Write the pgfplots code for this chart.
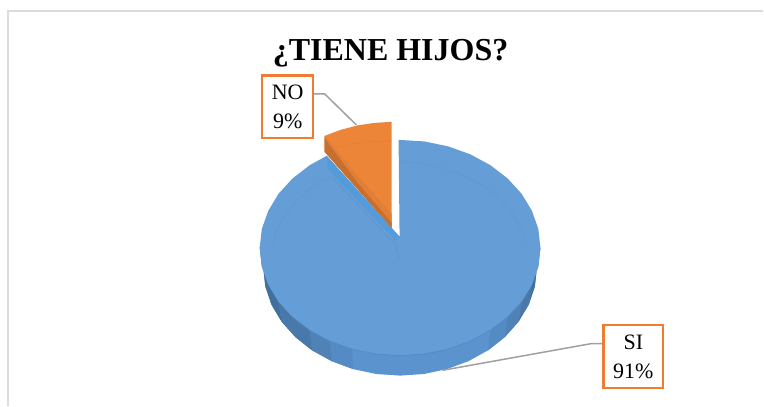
\documentclass[border=0pt]{standalone}
\usepackage{fontspec}
\setmainfont{Liberation Serif}
\usepackage{pgfplots}
\pgfplotsset{compat=1.18}
\definecolor{sitop}{HTML}{659DD6}
\definecolor{siring}{HTML}{6099D2}
\definecolor{siwall}{HTML}{549BDB}
\definecolor{simid}{HTML}{5A93CE}
\definecolor{sideA}{HTML}{41709F}
\definecolor{sideB}{HTML}{4979AB}
\definecolor{sideC}{HTML}{5082B8}
\definecolor{sideD}{HTML}{558BC4}
\definecolor{notop}{HTML}{ED8538}
\definecolor{nomid}{HTML}{E27F36}
\definecolor{noside}{HTML}{C56F30}
\definecolor{nobox}{HTML}{ED7D31}
\definecolor{leader}{HTML}{A0A0A0}
\definecolor{frame}{HTML}{DCDCDC}
\begin{document}
\begin{tikzpicture}
\begin{axis}[
    scale only axis,
    width=764pt,
    height=406pt,
    xmin=0, xmax=764,
    ymin=0, ymax=406,
    y dir=reverse,
    axis lines=none,
    clip=false,
    every axis plot/.append style={no markers}
]
% background keeps the page at full size
\addplot[draw=none,fill=white] coordinates {(0,0) (764,0) (764,406) (0,406)} --cycle;
% frame of the chart
\addplot[frame,line width=1.6pt] coordinates {(8,406) (8,11) (764,11)};

% side of SI
\addplot[draw=none,fill=simid] coordinates {
(541,248) (537.5,268) (535.4,286.8) (529.3,304.9) (519.1,322) (505.4,337.4) (488.6,350.7)
(469,361.5) (447.4,369.5) (424.3,374.4) (400.5,376) (376.7,374.4) (353.6,369.5) (332,361.5)
(312.4,350.7) (295.6,337.4) (281.9,322) (271.7,304.9) (265.6,286.8) (263.5,268) (260,248)} --cycle;
% side gets darker toward both ends
\addplot[draw=none,fill=sideD] coordinates {
(330.2,341.5) (332,361.5) (353.6,369.5) (352.4,349.5)} --cycle;
\addplot[draw=none,fill=sideC] coordinates {
(310.2,330.7) (312.4,350.7) (332,361.5) (330.2,341.5)} --cycle;
\addplot[draw=none,fill=sideB] coordinates {
(278.8,302) (281.9,322) (295.6,337.4) (312.4,350.7) (310.2,330.7) (292.9,317.4)} --cycle;
\addplot[draw=none,fill=sideA] coordinates {
(260,248) (263.5,268) (265.6,286.8) (271.7,304.9) (281.9,322) (278.8,302) (268.5,284.9) (262.1,266.8)} --cycle;
\addplot[draw=none,fill=sideD] coordinates {
(490.8,330.7) (488.6,350.7) (505.4,337.4) (508.1,317.4)} --cycle;
\addplot[draw=none,fill=sideC] coordinates {
(508.1,317.4) (505.4,337.4) (519.1,322) (522.2,302)} --cycle;
\addplot[draw=none,fill=sideB] coordinates {
(522.2,302) (519.1,322) (529.3,304.9) (532.5,284.9)} --cycle;
\addplot[draw=none,fill=sideA] coordinates {
(541,248) (537.5,268) (535.4,286.8) (529.3,304.9) (532.5,284.9) (538.9,266.8)} --cycle;

% top of SI with the notch of NO
\addplot[draw=none,fill=sitop] coordinates {
(541,248) (538.9,266.8) (532.5,284.9) (522.2,302) (508.1,317.4) (490.8,330.7) (470.8,341.5)
(448.6,349.5) (424.9,354.4) (400.5,356) (376.1,354.4) (352.4,349.5) (330.2,341.5) (310.2,330.7)
(292.9,317.4) (278.8,302) (268.5,284.9) (262.1,266.8) (260,248) (262.1,229.2) (268.5,211.1)
(278.8,194) (292.9,178.6) (310.2,165.3) (327,156) (400,237) (399,140) (424.9,141.6)
(448.6,146.5) (470.8,154.5) (490.8,165.3) (508.1,178.6) (522.2,194) (532.5,211.1) (538.9,229.2)} --cycle;

% faint bevel ring on top
\addplot[siring,line width=0.5pt] coordinates {
(400,162) (422,163.5) (444,168) (465,176) (484,186) (500,199) (513,214) (522,230) (527,246)};
\addplot[siring,line width=0.5pt] coordinates {
(273,246) (277,230) (286,214) (299,199) (313,187) (327,178)};
% darker seam between top and side
\addplot[sideD,line width=0.7pt] coordinates {
(522.2,302) (508.1,317.4) (490.8,330.7) (470.8,341.5) (448.6,349.5) (424.9,354.4) (400.5,356)
(376.1,354.4) (352.4,349.5) (330.2,341.5) (310.2,330.7) (292.9,317.4)};

% inner wall of the notch
\addplot[draw=none,fill=siwall] coordinates {(327,156) (400,237) (396,241) (328,169)} --cycle;
\addplot[simid,line width=0.5pt] coordinates {(333,178) (395,244) (400,258)};

% NO: side and top
\addplot[draw=none,fill=notop] coordinates {
(392,122) (375,123) (358,125.5) (341,130) (325,136) (325,152) (392,228)} --cycle;
\addplot[draw=none,fill=nomid] coordinates {(325,136) (325,152) (392,228) (392,214) (352,169)} --cycle;
\addplot[draw=none,fill=noside] coordinates {(325,138) (325,152) (392,228) (392,223) (358,183) (329,144)} --cycle;
\addplot[nomid,line width=0.4pt] coordinates {(331,148) (350,144) (371,142) (392,141)};

% leader lines
\addplot[leader,line width=1.5pt] coordinates {(314,94) (325,94) (356.7,125)};
\addplot[leader,line width=1.5pt] coordinates {(603.3,344) (591.7,344) (443,370.7)};

% data labels
\node[draw=nobox,line width=2.3pt,fill=white,minimum width=51pt,minimum height=62.5pt,
      inner sep=0pt,align=center,font=\fontsize{22}{29}\selectfont,outer sep=0pt]
    at (axis cs:288,106.8) {NO\\9\%};
\node[draw=nobox,line width=2.3pt,fill=white,minimum width=59.5pt,minimum height=62.5pt,
      inner sep=0pt,align=center,font=\fontsize{22}{29}\selectfont,outer sep=0pt]
    at (axis cs:634,356.8) {SI\\91\%};

% title
\node[font=\fontsize{32}{36}\selectfont\bfseries,anchor=base] at (axis cs:391,61) {¿TIENE HIJOS?};
\end{axis}
\end{tikzpicture}
\end{document}
